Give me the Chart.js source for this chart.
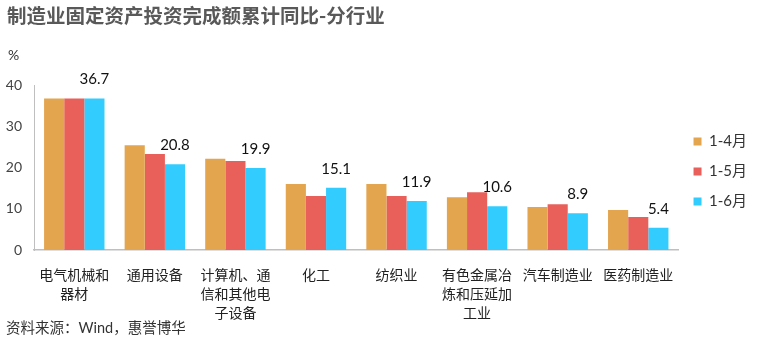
<!DOCTYPE html>
<html>
<head>
<meta charset="utf-8">
<script src="https://cdn.jsdelivr.net/npm/chart.js@4"></script>
<style>
  html, body { margin: 0; padding: 0; background: #fff; }
  #wrap { width: 767px; height: 345px; position: relative; }
</style>
</head>
<body>
<div id="wrap"><canvas id="chart" width="767" height="345"></canvas></div>
<script>
const categories = [
  ["电气机械和", "器材"],
  ["通用设备"],
  ["计算机、通", "信和其他电", "子设备"],
  ["化工"],
  ["纺织业"],
  ["有色金属冶", "炼和压延加", "工业"],
  ["汽车制造业"],
  ["医药制造业"]
];
const seriesNames = ["1-4月", "1-5月", "1-6月"];
const jan_apr = [36.7, 25.4, 22.1, 16.0, 16.0, 12.8, 10.4, 9.7];
const jan_may = [36.7, 23.3, 21.6, 13.1, 13.1, 14.0, 11.1, 8.0];
const jan_jun = [36.7, 20.8, 19.9, 15.1, 11.9, 10.6, 8.9, 5.4];
const yTicks = [0, 10, 20, 30, 40];

const colors = ["#E4A54F", "#E9605B", "#33CCFF"];
const FONT = "Lato, 'Noto Sans CJK SC', sans-serif";

// title, unit, source and value labels on the last series
const extras = {
  id: "extras",
  afterDatasetsDraw(chart) {
    const ctx = chart.ctx;
    const area = chart.chartArea;
    ctx.save();
    ctx.fillStyle = "#595959";
    ctx.font = "bold 19.5px 'Noto Sans CJK SC', sans-serif";
    ctx.textBaseline = "middle";
    ctx.textAlign = "left";
    ctx.fillText("制造业固定资产投资完成额累计同比-分行业", 7, 16);

    ctx.fillStyle = "#333";
    ctx.font = "14px " + FONT;
    ctx.fillText("%", 8, area.top - 30);
    ctx.font = "14.5px " + FONT;
    ctx.fillText("资料来源：Wind，惠誉博华", 6, 328);

    const meta = chart.getDatasetMeta(2);
    ctx.fillStyle = "#111";
    ctx.font = "15px " + FONT;
    ctx.textAlign = "center";
    meta.data.forEach((bar, i) => {
      ctx.fillText(jan_jun[i].toFixed(1), bar.x, bar.y - 19);
    });
    ctx.restore();
  }
};

new Chart(document.getElementById("chart"), {
  type: "bar",
  data: {
    labels: categories,
    datasets: [
      { label: seriesNames[0], data: jan_apr, backgroundColor: colors[0] },
      { label: seriesNames[1], data: jan_may, backgroundColor: colors[1] },
      { label: seriesNames[2], data: jan_jun, backgroundColor: colors[2] }
    ]
  },
  options: {
    responsive: false,
    animation: false,
    datasets: { bar: { categoryPercentage: 0.75, barPercentage: 1.0 } },
    layout: { padding: { top: 85, left: 0, right: 10, bottom: 0 } },
    plugins: {
      title: { display: false },
      tooltip: { enabled: false },
      legend: {
        position: "right",
        align: "start",
        // empty title used only as a spacer above the items
        title: { display: true, text: " ", font: { size: 10 }, padding: 11 },
        labels: {
          boxWidth: 8,
          boxHeight: 8,
          padding: 15,
          color: "#333",
          font: { family: FONT, size: 15 }
        }
      }
    },
    scales: {
      x: {
        grid: { display: false },
        border: { color: "#BFBFBF", width: 1.5 },
        ticks: {
          color: "#222",
          padding: 8,
          maxRotation: 0,
          autoSkip: false,
          font: { family: FONT, size: 14, lineHeight: 1.35 }
        },
        afterFit(scale) { scale.height = 95; }
      },
      y: {
        min: 0,
        max: 40,
        afterBuildTicks(scale) { scale.ticks = yTicks.map(v => ({ value: v })); },
        grid: { display: false, drawTicks: false },
        border: { color: "#BFBFBF", width: 1 },
        ticks: {
          color: "#444",
          padding: 12,
          font: { family: FONT, size: 14 }
        },
        afterFit(scale) { scale.width = 34; }
      }
    }
  },
  plugins: [extras]
});
</script>
</body>
</html>
